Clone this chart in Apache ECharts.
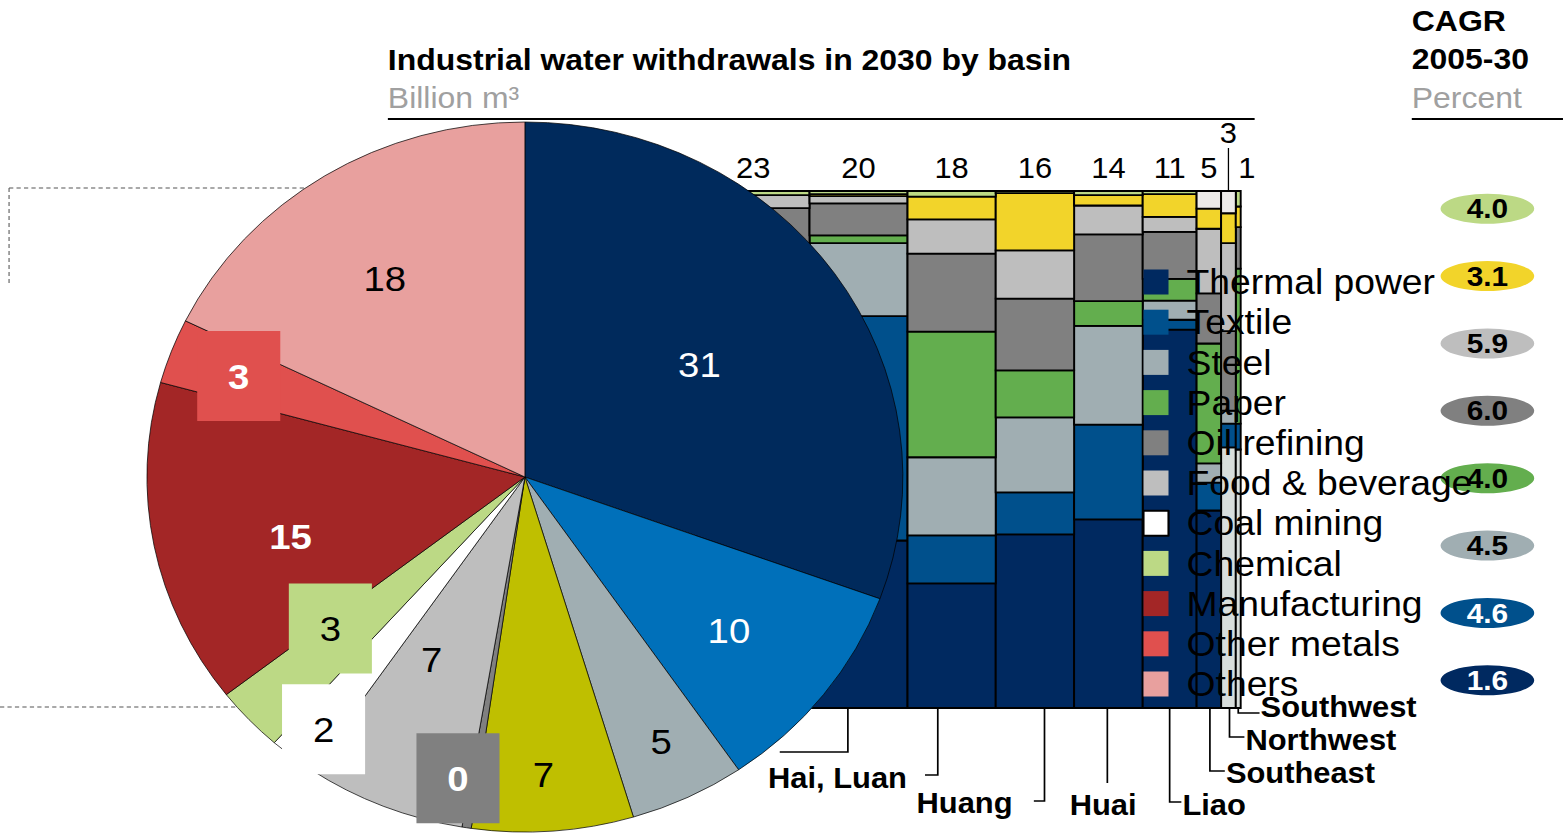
<!DOCTYPE html>
<html>
<head>
<meta charset="utf-8">
<script src="https://cdn.jsdelivr.net/npm/echarts@6.0.0/dist/echarts.min.js"></script>
<style>
  html, body { margin: 0; padding: 0; background: #fff; }
  #wrap { width: 1563px; height: 834px; overflow: hidden; }
  /* the source picture is stretched a little horizontally */
  #chart { width: 1468px; height: 834px; transform: scaleX(1.0647); transform-origin: 0 0; }
</style>
</head>
<body>
<div id="wrap"><div id="chart"></div></div>
<script>
// ---- data ----
const basinNames  = ['', '', 'Hai, Luan', 'Huang', 'Huai', 'Liao', 'Southeast', 'Northwest', 'Southwest'];
const basinTotals = [23, 20, 18, 16, 14, 11, 5, 3, 1];

// share of each sector per basin, percent (bottom of stack first)
const unallocatedShare = [0, 0, 0, 0, 0, 0, 0, 50.4, 50];
const thermalShare     = [40, 32.4, 24.1, 33.6, 36.5, 73.2, 38.2, 0, 0];
const textileShare     = [12, 43.4, 9.3, 8.1, 18.3, 1.9, 5.4, 4.6, 5];
const steelShare       = [15.7, 14.1, 15.1, 14.5, 19.1, 3.7, 3.7, 2.5, 0];
const paperShare       = [8, 1.5, 24.3, 9.1, 4.8, 4.2, 23.2, 0, 30];
const oilShare         = [21, 6.2, 15.1, 13.9, 12.9, 9.1, 9.7, 15.4, 8];
const foodShare        = [2.5, 1.4, 6.6, 9.3, 5.6, 2.9, 12.5, 17.0, 0];
const otherIndShare    = [0, 0.4, 4.4, 11.1, 2.0, 4.4, 3.9, 5.8, 4];
const chemicalShare    = [0.8, 0.6, 1.1, 0.4, 0.8, 0.6, 0, 0, 3];
const miscShare        = [0, 0, 0, 0, 0, 0, 3.4, 4.3, 0];

const pieNames  = ['Thermal power', 'Textile', 'Steel', 'Paper', 'Oil refining', 'Food & beverage',
                   'Coal mining', 'Chemical', 'Manufacturing', 'Other metals', 'Others'];
const pieValues = [31, 10, 5, 7, 0.4, 7, 2, 3, 15, 3, 18];

const cagrNames  = ['Chemical', 'Other industry', 'Food & beverage', 'Oil refining', 'Paper', 'Steel', 'Textile', 'Thermal power'];
const cagrValues = [4.0, 3.1, 5.9, 6.0, 4.0, 4.5, 4.6, 1.6];

// ---- styles ----
const FONT = '"Liberation Sans", Arial, sans-serif';

const sectors = [
  {name: 'Unallocated',     color: '#D8DEDC', share: unallocatedShare},
  {name: 'Thermal power',   color: '#002960', share: thermalShare},
  {name: 'Textile',         color: '#00508C', share: textileShare},
  {name: 'Steel',           color: '#A0AEB2', share: steelShare},
  {name: 'Paper',           color: '#63AE4E', share: paperShare},
  {name: 'Oil refining',    color: '#808080', share: oilShare},
  {name: 'Food & beverage', color: '#BEBEBE', share: foodShare},
  {name: 'Other industry',  color: '#F2D42A', share: otherIndShare},
  {name: 'Chemical',        color: '#BCD985', share: chemicalShare},
  {name: 'Misc.',           color: '#ECEAE8', share: miscShare}
];

const pieColors = ['#002A5C', '#0070BA', '#A0AEB2', '#BFBF00', '#808080', '#BEBEBE',
                   '#FFFFFF', '#BCD985', '#A32626', '#E0504E', '#E8A09E'];
const boxPad = [27, 29];
const pieLabelStyle = [
  {color: '#fff'}, {color: '#fff'}, {color: '#000'}, {color: '#000'},
  {color: '#fff', fontWeight: 'bold', backgroundColor: '#808080', padding: boxPad},
  {color: '#000'},
  {color: '#000', backgroundColor: '#FFFFFF', padding: boxPad},
  {color: '#000', backgroundColor: '#BCD985', padding: boxPad},
  {color: '#fff', fontWeight: 'bold'},
  {color: '#fff', fontWeight: 'bold', backgroundColor: '#E0504E', padding: boxPad},
  {color: '#000'}
];
const pieLabelNudge = [[16, -9], [49, 43], [50, 102], [4, 117], [-35, 123], [-20, 15],
                       [-78, 110], [-51, 28], [-43, 24], [-100, -37], [-36, -45]];

const cagrColors     = ['#BCD985', '#F2D42A', '#BEBEBE', '#808080', '#63AE4E', '#A0AEB2', '#00508C', '#002960'];
const cagrTextColors = ['#000', '#000', '#000', '#000', '#000', '#000', '#fff', '#fff'];

// label nudges (px)
const totalLift   = [23, 23, 23, 23, 23, 23, 23, 58, 23];
const totalShiftX = [0, 0, 0, 0, 0, 0, 0, 0, 8];
const leadDx   = [0, -10, -13, 9, -1, 0, 1, 1, 0];
const leadDrop = [0, 44, 67, 93, 75, 94, 63, 29, 5];
const leadArm  = [0, -64, -12, -10, 0, 11, 14, 14, 20];
const labelGap = [0, 0, 17, 20, 0, 1, 1, 1, 1];
const labelDy  = [0, 0, 3, 2, 22, 3, 2, 3, -6];

// ---- build ----
const colStart = [];
let acc = 0;
basinTotals.forEach(t => { colStart.push(acc); acc += t; });
const totalWidth = acc;

function rectItem(params, api) {
  if (api.value(3) - api.value(2) <= 0) return null;
  const p0 = api.coord([api.value(0), api.value(3)]);
  const p1 = api.coord([api.value(1), api.value(2)]);
  return {
    type: 'rect',
    shape: {x: p0[0], y: p0[1], width: p1[0] - p0[0], height: p1[1] - p0[1]},
    style: {fill: api.visual('color'), stroke: '#000', lineWidth: 1.8}
  };
}

const sectorSeries = sectors.map((s, si) => {
  const data = basinTotals.map((t, ci) => {
    let base = 0;
    for (let k = 0; k < si; k++) base += sectors[k].share[ci];
    return [colStart[ci], colStart[ci] + t, base, base + s.share[ci]];
  });
  return {
    type: 'custom', name: s.name, xAxisIndex: 0, yAxisIndex: 0, z: 1, silent: true,
    itemStyle: {color: s.color},
    encode: {x: [0, 1], y: [2, 3]},
    data: data,
    renderItem: rectItem
  };
});

const totalsSeries = {
  type: 'custom', name: 'totals', xAxisIndex: 0, yAxisIndex: 0, z: 1, silent: true,
  data: basinTotals.map((t, i) => [colStart[i] + t / 2, 100, t]),
  renderItem: (params, api) => {
    const i = params.dataIndex;
    const p = api.coord([api.value(0), api.value(1)]);
    const kids = [{
      type: 'text', x: p[0] + totalShiftX[i], y: p[1] - totalLift[i],
      style: {text: String(api.value(2)), font: '29px ' + FONT, fill: '#000',
              textAlign: 'center', textVerticalAlign: 'middle', align: 'center', verticalAlign: 'middle'}
    }];
    if (totalLift[i] > 30) {
      kids.push({type: 'line', shape: {x1: p[0], y1: p[1] - 43, x2: p[0], y2: p[1]},
                 style: {stroke: '#000', lineWidth: 1.2}});
    }
    return {type: 'group', children: kids};
  }
};

const basinSeries = {
  type: 'custom', name: 'basins', xAxisIndex: 0, yAxisIndex: 0, z: 1, silent: true,
  data: basinTotals.map((t, i) => [colStart[i] + t / 2, 0]),
  renderItem: (params, api) => {
    const i = params.dataIndex;
    if (leadDrop[i] === 0) return null;
    const p = api.coord([api.value(0), api.value(1)]);
    const x = p[0] + leadDx[i], y0 = p[1], y1 = p[1] + leadDrop[i], x2 = x + leadArm[i];
    const kids = [{
      type: 'polyline', shape: {points: [[x, y0], [x, y1], [x2, y1]]},
      style: {stroke: '#000', lineWidth: 1.6, fill: null}
    }];
    if (basinNames[i]) {
      let tx, align;
      if (leadArm[i] < 0) { tx = x2 - labelGap[i]; align = 'right'; }
      else if (leadArm[i] > 0) { tx = x2 + labelGap[i]; align = 'left'; }
      else { tx = x - 4; align = 'center'; }
      kids.push({
        type: 'text', x: tx, y: y1 + labelDy[i],
        style: {text: basinNames[i], font: 'bold 29px ' + FONT, fill: '#000',
                textAlign: align, textVerticalAlign: 'middle', align: align, verticalAlign: 'middle'}
      });
    }
    return {type: 'group', children: kids};
  }
};

const pieSeries = {
  type: 'pie', name: 'pie', z: 5, silent: true,
  center: [493, 477], radius: 355, startAngle: 90, clockwise: true,
  itemStyle: {borderColor: '#000', borderWidth: 0.7},
  label: {show: true, position: 'inside', fontSize: 36, fontFamily: FONT,
          formatter: p => String(Math.round(p.value))},
  labelLine: {show: false},
  labelLayout: p => ({dx: pieLabelNudge[p.dataIndex][0], dy: pieLabelNudge[p.dataIndex][1]}),
  emphasis: {disabled: true},
  data: pieNames.map((n, i) => ({
    name: n, value: pieValues[i],
    itemStyle: {color: pieColors[i]},
    label: pieLabelStyle[i]
  }))
};

const cagrSeries = {
  type: 'scatter', name: 'CAGR', xAxisIndex: 1, yAxisIndex: 1, z: 3, silent: true,
  symbol: 'circle', symbolSize: [88, 30],
  label: {show: true, position: 'inside', fontSize: 28, fontWeight: 'bold', fontFamily: FONT,
          formatter: p => p.value[2].toFixed(1)},
  data: cagrValues.map((v, i) => ({
    value: [0.5, i, v],
    itemStyle: {color: cagrColors[i], opacity: 1},
    label: {color: cagrTextColors[i]}
  }))
};

function txt(x, y, text, font, fill) {
  return {type: 'text', x: x, y: y, z: 0,
          style: {text: text, font: font, fill: fill, textVerticalAlign: 'middle', verticalAlign: 'middle'}};
}
function ln(x1, y1, x2, y2, style) {
  return {type: 'line', z: 0, shape: {x1: x1, y1: y1, x2: x2, y2: y2}, style: style};
}
const dash = {stroke: '#555', lineWidth: 1, lineDash: [4, 3]};
const rule = {stroke: '#000', lineWidth: 2};

const chart = echarts.init(document.getElementById('chart'), null, {renderer: 'svg'});
chart.setOption({
  animation: false,
  backgroundColor: '#fff',
  grid: [
    {left: 654.5, top: 191, width: 510.8, height: 517, outerBoundsMode: 'none', containLabel: false},
    {left: 1353, top: 175, width: 88, height: 539, outerBoundsMode: 'none', containLabel: false}
  ],
  xAxis: [
    {type: 'value', gridIndex: 0, min: 0, max: totalWidth, show: false},
    {type: 'value', gridIndex: 1, min: 0, max: 1, show: false}
  ],
  yAxis: [
    {type: 'value', gridIndex: 0, min: 0, max: 100, show: false},
    {type: 'category', gridIndex: 1, data: cagrNames, inverse: true, show: false}
  ],
  legend: {
    orient: 'vertical', left: 1073, top: 264.5, z: 10, padding: 0,
    itemWidth: 23.5, itemHeight: 25, itemGap: 5.2, icon: 'rect', selectedMode: false,
    textStyle: {fontSize: 35, fontFamily: FONT, color: '#000', padding: [0, 0, 0, 12]},
    itemStyle: {borderWidth: 0},
    data: pieNames.map(n => n === 'Coal mining'
      ? {name: n, itemStyle: {color: '#fff', borderColor: '#000', borderWidth: 2}}
      : n)
  },
  graphic: [
    ln(8.5, 188, 300, 188, dash),
    ln(8.5, 188, 8.5, 285, dash),
    ln(0, 707, 240, 707, dash),
    txt(364.3, 60, 'Industrial water withdrawals in 2030 by basin', 'bold 30px ' + FONT, '#000'),
    txt(364.3, 98, 'Billion m³', '30px ' + FONT, '#A0A0A0'),
    ln(364.3, 119, 1178.4, 119, rule),
    txt(1326, 21, 'CAGR', 'bold 30px ' + FONT, '#000'),
    txt(1326, 59, '2005-30', 'bold 30px ' + FONT, '#000'),
    txt(1326, 98, 'Percent', '30px ' + FONT, '#A0A0A0'),
    ln(1326, 119, 1468, 119, rule)
  ],
  series: sectorSeries.concat([totalsSeries, basinSeries, pieSeries, cagrSeries])
});
</script>
</body>
</html>
